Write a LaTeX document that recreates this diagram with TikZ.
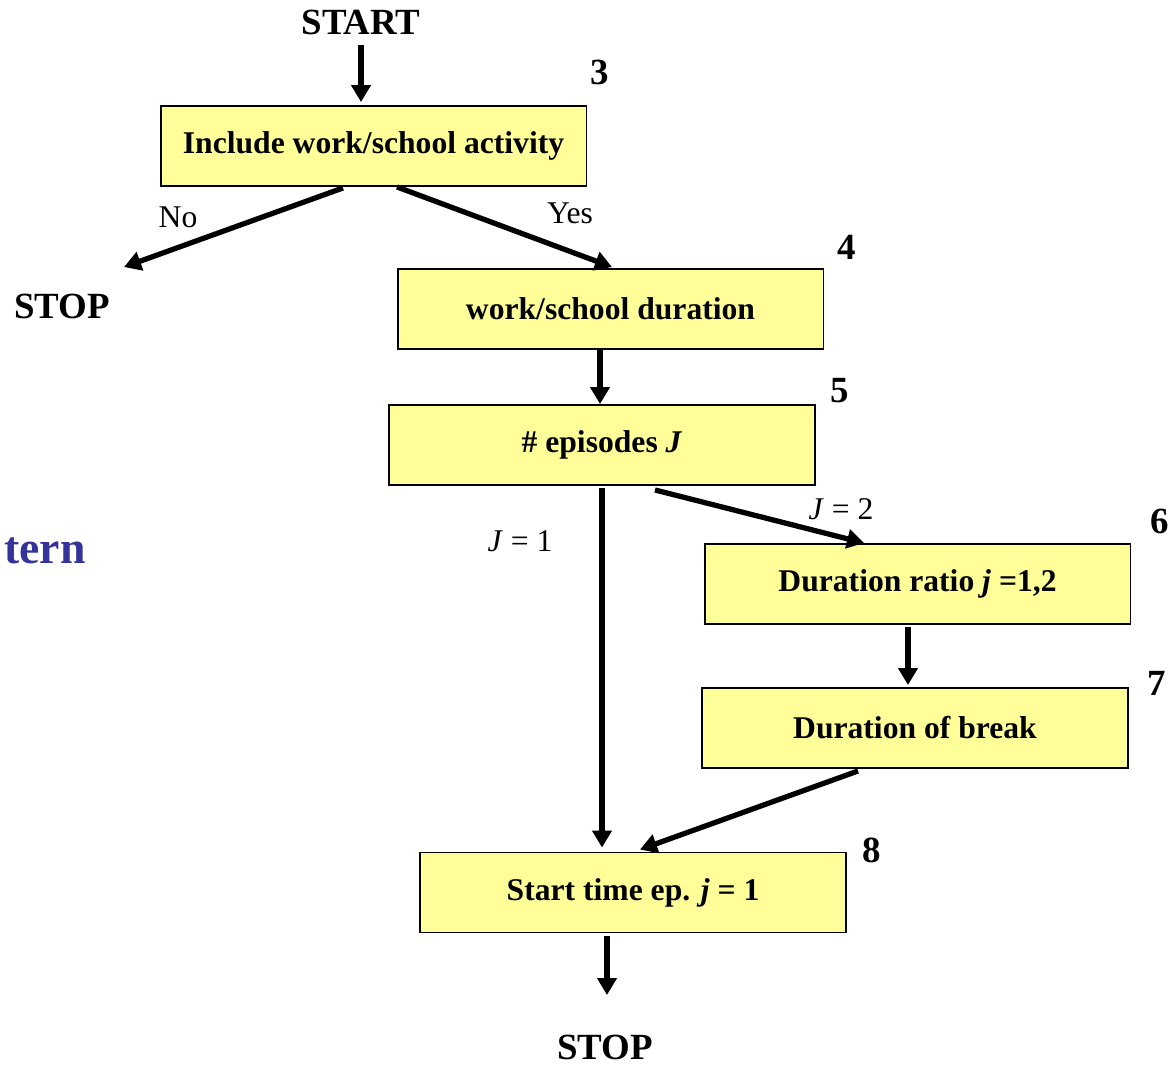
\documentclass[tikz,border=0pt]{standalone}
\usepackage{fontspec}
\setmainfont{Liberation Serif}
\usetikzlibrary{arrows.meta, positioning, calc}
\definecolor{boxyellow}{HTML}{FFFF99}
\definecolor{titleblue}{HTML}{333399}

\begin{document}
\begin{tikzpicture}[
    x=0.02cm, y=-0.02cm,
    every node/.style={font=\fontsize{18}{20}\selectfont},
    box/.style={draw, line width=1.1pt, fill=boxyellow, minimum width=8.52cm, minimum height=1.6cm, inner sep=2pt, font=\fontsize{18}{20}\selectfont\bfseries},
    big/.style={font=\fontsize{21}{24}\selectfont\bfseries, inner sep=0pt},
    lbl/.style={font=\fontsize{18}{20}\selectfont, inner sep=0pt},
    arr/.style={-{Triangle[length=0.34cm, width=0.38cm]}, line width=3pt}
]
\useasboundingbox (0,0) rectangle (1169,1065);

% boxes
\node[box] (b3) at (373.5,146) {Include work/school activity};
\node[box] (b4) at (610.5,309) {work/school duration};
\node[box] (b5) at (602,445) {\# episodes \textit{J}};
\node[box] (b6) at (917.5,584) {Duration ratio \textit{j} =1,2};
\node[box] (b7) at (915,728) {Duration of break};
\node[box] (b8) at (633,892.5) {Start time ep. \textit{j} = 1};

% step numbers
\node[big] (n3) at (600,72) {3};
\node[big] (n4) at (847,247) {4};
\node[big] (n5) at (840,391) {5};
\node[big] (n6) at (1160,521) {6};
\node[big] (n7) at (1157,683) {7};
\node[big] (n8) at (872,850) {8};

% start / stop
\node[big] (start) at (361,22) {START};
\node[big] (stopL) at (62,306) {STOP};
\node[big] (stopB) at (605,1047) {STOP};
\node[big, font=\fontsize{26}{30}\selectfont\bfseries, text=titleblue, anchor=east] (tern) at (86,551) {tern};

% branch labels
\node[lbl] (no) at (178,217) {No};
\node[lbl] (yes) at (570,213) {Yes};
\node[lbl] (j2) at (841,509) {\textit{J} = 2};
\node[lbl] (j1) at (520,541) {\textit{J} = 1};

\draw[arr] ($(start.south)+(0,10)$) -- ($(b3.north)+(-12.5,-3)$);
\draw[arr] ($(b3.south)+(-30.5,1)$) -- ($(stopL)+(62,-39)$);
\draw[arr] ($(b3.south)+(23.5,0)$) -- ($(b4.north)+(1.5,-1)$);
\draw[arr] ($(b4.south)+(-10.5,0)$) -- ($(b5.north)+(-2,0)$);
\draw[arr] ($(b5.south)+(0,2)$) -- ($(b8.north)+(-31,-4)$);
\draw[arr] ($(b5.south)+(53,4)$) -- ($(b6.north)+(-53.5,0)$);
\draw[arr] ($(b6.south)+(-9.5,2)$) -- ($(b7.north)+(-7,-2)$);
\draw[arr] ($(b7.south)+(-57,2)$) -- ($(b8.north)+(7,-2)$);
\draw[arr] ($(b8.south)+(-26,3)$) -- ($(stopB)+(2,-52)$);
\end{tikzpicture}
\end{document}
